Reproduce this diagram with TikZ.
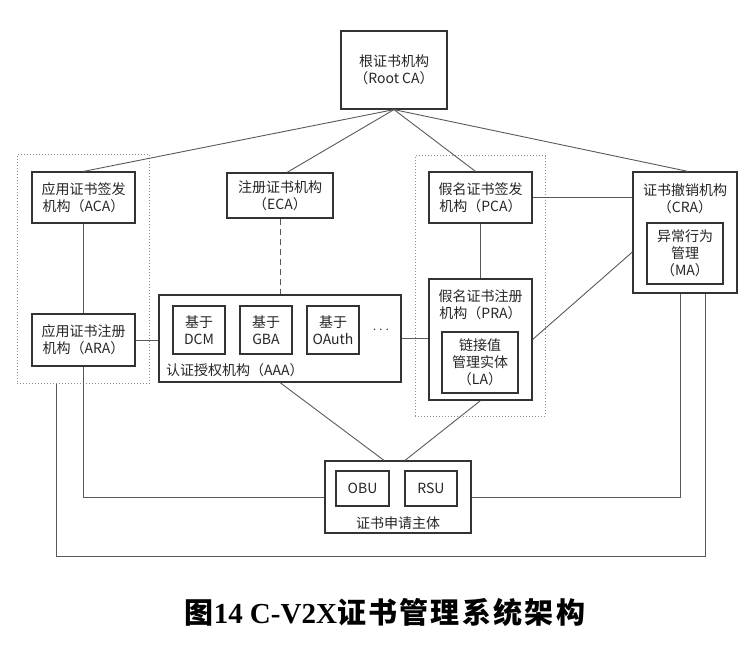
\documentclass[tikz,border=0pt]{standalone}
\usepackage{fontspec}
\setmainfont{Noto Sans CJK SC}
\newfontfamily\capcjk{Noto Sans CJK SC}[LetterSpace=8]
\newfontfamily\caplatin{Liberation Serif}
\usetikzlibrary{fit,positioning}

\begin{document}
\begin{tikzpicture}[x=1pt,y=-1pt,
    box/.style={draw=black!80, line width=1.2pt, fill=white, text=black!85,
      font=\fontsize{14}{17}\selectfont, align=center, inner sep=0pt},
    txt/.style={text=black!85, font=\fontsize{14}{17}\selectfont, align=center, inner sep=0pt},
    group/.style={draw=black!45, dotted, line width=1pt, inner sep=0pt},
    link/.style={draw=black!65, line width=0.9pt}]
    \useasboundingbox (0,0) rectangle (754,646);
    % Root authority
    \node[box, minimum width=106pt, minimum height=78pt] (root) at (394,70) {根证书机构\\（Root CA）};
    % Application certificates
    \node[box, minimum width=103pt, minimum height=51pt] (aca) at (83.5,197.5) {应用证书签发\\机构（ACA）};
    \node[box, minimum width=103pt, minimum height=52pt] (ara) at (83.5,340) {应用证书注册\\机构（ARA）};
    % Enrolment and authorisation
    \node[box, minimum width=106pt, minimum height=45pt] (eca) at (280,195.5) {注册证书机构\\（ECA）};
    \node[box, minimum width=242pt, minimum height=87pt] (aaa) at (280,338.5) {};
    \foreach \n/\x/\t in {dcm/199/DCM, gba/266/GBA, oauth/333/OAuth}
        \node[box, minimum width=52pt, minimum height=48pt] (\n) at (\x,330) {基于\\\t};
    \node[txt] (more) at (381,330) {$\cdots$};
    \node[txt, anchor=west] (aaalabel) at (166,370) {认证授权机构（AAA）};
    % Pseudonym certificates
    \node[box, minimum width=103pt, minimum height=51pt] (pca) at (480.5,197.5) {假名证书签发\\机构（PCA）};
    \node[box, minimum width=103pt, minimum height=121pt] (pra) at (480.5,339.5) {};
    \node[txt] (pralabel) at (480.5,305) {假名证书注册\\机构（PRA）};
    \node[box, minimum width=76pt, minimum height=61pt] (la) at (480,362.5) {链接值\\管理实体\\（LA）};
    % Revocation
    \node[box, minimum width=104pt, minimum height=121pt] (cra) at (685,232.5) {};
    \node[txt] (cralabel) at (685,198.5) {证书撤销机构\\（CRA）};
    \node[box, minimum width=76pt, minimum height=61pt] (ma) at (685,253.5) {异常行为\\管理\\（MA）};
    % Certificate applicants
    \node[box, minimum width=146pt, minimum height=72pt] (subj) at (398,497) {};
    \node[box, minimum width=53pt, minimum height=35pt] (obu) at (362.5,488.5) {OBU};
    \node[box, minimum width=52pt, minimum height=35pt] (rsu) at (431,488.5) {RSU};
    \node[txt] (subjlabel) at (398,523) {证书申请主体};
    % Dotted groups
    \node[group, inner xsep=14pt, inner ysep=17pt, fit=(aca)(ara)] (appgrp) {};
    \node[group, inner xsep=13pt, inner ysep=15.5pt, fit=(pca)(pra)] (pseugrp) {};
    % Links
    \draw[link] (root.south) -- (aca.north);
    \draw[link] (root.south) -- ([xshift=7pt]eca.north);
    \draw[link] (root.south) -- ([xshift=-5pt]pca.north);
    \draw[link] (root.south) -- ([xshift=3pt]cra.north);
    \draw[link] (aca) -- (ara);
    \draw[link, dashed, dash pattern=on 6pt off 4pt] (eca) -- (eca |- aaa.north);
    \draw[link] (ara.east) -- (ara.east -| aaa.west);
    \draw[link] (aaa.east) -- (aaa.east -| pra.west);
    \draw[link] (pca) -- (pra);
    \draw[link] (pca.east) -- (pca.east -| cra.west);
    \draw[link] (pra.east) -- ([yshift=-19.5pt]cra.west);
    \draw[link] (aaa.south) -- ([xshift=-14pt]subj.north);
    \draw[link] (pra.south) -- ([xshift=7pt]subj.north);
    \draw[link] (ara.south) |- (subj.west);
    \draw[link] (subj.east) -| ([xshift=-5pt]cra.south);
    \draw[link] ([xshift=40pt]appgrp.south west) -- ++(0,172) -| ([xshift=20pt]cra.south);
    % Caption
    \node[text=black, font=\fontsize{29}{31}\selectfont, inner sep=0pt] (caption) at (385,612)
        {\capcjk\bfseries 图\caplatin\bfseries 14 C-V2X\capcjk\bfseries 证书管理系统架构};
\end{tikzpicture}
\end{document}
